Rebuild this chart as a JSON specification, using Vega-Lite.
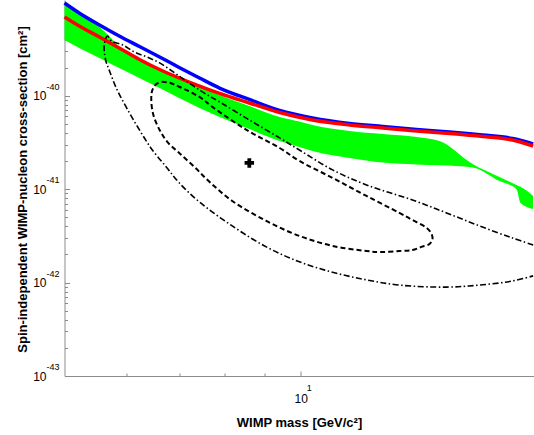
{
  "$schema": "https://vega.github.io/schema/vega-lite/v6.json",
  "width": 469,
  "height": 376,
  "autosize": "none",
  "padding": {"left": 64.5, "top": 0, "right": 0.5, "bottom": 59},
  "config": {
    "view": {"stroke": null},
    "axis": {"grid": false, "domainColor": "#8c8c8c", "tickColor": "#8c8c8c", "labelColor": "#000000", "titleColor": "#000000", "labelFont": "Liberation Sans", "titleFont": "Liberation Sans"}
  },
  "resolve": {"axis": {"x": "independent", "y": "independent"}},
  "datasets": {
    "green": [
      {"m": 5.0, "lo": 3.96e-40, "hi": 9.61e-40},
      {"m": 5.22, "lo": 3.25e-40, "hi": 7.51e-40},
      {"m": 5.54, "lo": 2.54e-40, "hi": 5.45e-40},
      {"m": 5.70, "lo": 2.25e-40, "hi": 4.37e-40},
      {"m": 5.87, "lo": 1.98e-40, "hi": 3.33e-40},
      {"m": 6.05, "lo": 1.75e-40, "hi": 2.87e-40},
      {"m": 6.32, "lo": 1.46e-40, "hi": 2.30e-40},
      {"m": 6.61, "lo": 1.21e-40, "hi": 1.94e-40},
      {"m": 7.00, "lo": 9.47e-41, "hi": 1.55e-40},
      {"m": 7.43, "lo": 7.40e-41, "hi": 1.26e-40},
      {"m": 7.88, "lo": 5.93e-41, "hi": 1.02e-40},
      {"m": 8.60, "lo": 4.41e-41, "hi": 7.78e-41},
      {"m": 9.40, "lo": 3.28e-41, "hi": 5.93e-41},
      {"m": 9.96, "lo": 2.83e-41, "hi": 5.3e-41},
      {"m": 10.35, "lo": 2.56e-41, "hi": 4.87e-41},
      {"m": 11.54, "lo": 2.16e-41, "hi": 4.20e-41},
      {"m": 12.72, "lo": 1.93e-41, "hi": 3.90e-41},
      {"m": 14.05, "lo": 1.84e-41, "hi": 3.62e-41},
      {"m": 15.03, "lo": 1.80e-41, "hi": 3.28e-41},
      {"m": 16.56, "lo": 1.71e-41, "hi": 1.86e-41},
      {"m": 17.92, "lo": 1.22e-41, "hi": 1.35e-41},
      {"m": 18.84, "lo": 1.00e-41, "hi": 1.11e-41},
      {"m": 19.06, "lo": 7.11e-42, "hi": 1.06e-41},
      {"m": 19.78, "lo": 6.14e-42, "hi": 8.46e-42}
    ],
    "blue": [
      {"m": 5.0, "s": 9.85e-40}, {"m": 5.22, "s": 7.70e-40}, {"m": 5.54, "s": 5.73e-40},
      {"m": 5.87, "s": 4.37e-40}, {"m": 6.23, "s": 3.37e-40}, {"m": 6.61, "s": 2.60e-40},
      {"m": 7.00, "s": 2.01e-40}, {"m": 7.43, "s": 1.55e-40}, {"m": 7.88, "s": 1.21e-40},
      {"m": 8.60, "s": 9.13e-41}, {"m": 9.40, "s": 6.96e-41}, {"m": 10.35, "s": 5.78e-41},
      {"m": 11.54, "s": 5.05e-41}, {"m": 12.72, "s": 4.69e-41}, {"m": 14.05, "s": 4.36e-41},
      {"m": 15.48, "s": 4.10e-41}, {"m": 17.05, "s": 3.80e-41}, {"m": 18.62, "s": 3.49e-41},
      {"m": 19.78, "s": 3.05e-41}
    ],
    "red": [
      {"m": 5.0, "s": 6.98e-40}, {"m": 5.22, "s": 5.59e-40}, {"m": 5.54, "s": 4.26e-40},
      {"m": 5.87, "s": 3.25e-40}, {"m": 6.23, "s": 2.45e-40}, {"m": 6.61, "s": 1.91e-40},
      {"m": 7.00, "s": 1.55e-40}, {"m": 7.43, "s": 1.27e-40}, {"m": 7.88, "s": 1.06e-40},
      {"m": 8.60, "s": 8.37e-41}, {"m": 9.40, "s": 6.62e-41}, {"m": 10.35, "s": 5.51e-41},
      {"m": 11.54, "s": 4.87e-41}, {"m": 12.72, "s": 4.52e-41}, {"m": 14.05, "s": 4.20e-41},
      {"m": 15.48, "s": 3.95e-41}, {"m": 17.05, "s": 3.67e-41}, {"m": 18.62, "s": 3.36e-41},
      {"m": 19.78, "s": 2.90e-41}
    ],
    "dashdot": [
      {"i": 0, "m": 19.78, "s": 2.53e-42}, {"i": 1, "m": 18.62, "s": 3.00e-42}, {"i": 2, "m": 16.90, "s": 4.04e-42},
      {"i": 3, "m": 15.34, "s": 5.57e-42}, {"i": 4, "m": 13.88, "s": 7.66e-42}, {"i": 5, "m": 12.13, "s": 1.11e-41},
      {"i": 6, "m": 10.98, "s": 1.61e-41}, {"i": 7, "m": 9.96, "s": 2.63e-41}, {"i": 8, "m": 9.40, "s": 3.54e-41},
      {"i": 9, "m": 8.60, "s": 5.51e-41}, {"i": 10, "m": 7.88, "s": 8.59e-41}, {"i": 11, "m": 7.43, "s": 1.15e-40},
      {"i": 12, "m": 6.94, "s": 1.71e-40}, {"i": 13, "m": 6.61, "s": 2.25e-40}, {"i": 14, "m": 6.36, "s": 2.61e-40},
      {"i": 15, "m": 6.14, "s": 2.94e-40}, {"i": 16, "m": 5.93, "s": 3.50e-40}, {"i": 17, "m": 5.74, "s": 3.85e-40},
      {"i": 18, "m": 5.67, "s": 4.37e-40}, {"i": 19, "m": 5.62, "s": 3.59e-40}, {"i": 20, "m": 5.62, "s": 2.94e-40},
      {"i": 21, "m": 5.65, "s": 2.30e-40}, {"i": 22, "m": 5.70, "s": 1.89e-40}, {"i": 23, "m": 5.82, "s": 1.21e-40},
      {"i": 24, "m": 6.00, "s": 7.41e-41}, {"i": 25, "m": 6.23, "s": 4.31e-41}, {"i": 26, "m": 6.47, "s": 2.63e-41},
      {"i": 27, "m": 6.74, "s": 1.73e-41}, {"i": 28, "m": 7.00, "s": 1.17e-41}, {"i": 29, "m": 7.43, "s": 7.29e-42},
      {"i": 30, "m": 8.18, "s": 4.04e-42}, {"i": 31, "m": 9.04, "s": 2.41e-42}, {"i": 32, "m": 9.96, "s": 1.67e-42},
      {"i": 33, "m": 10.98, "s": 1.29e-42}, {"i": 34, "m": 12.13, "s": 1.07e-42}, {"i": 35, "m": 13.36, "s": 9.4e-43},
      {"i": 36, "m": 15.34, "s": 8.95e-43}, {"i": 37, "m": 16.90, "s": 9.4e-43}, {"i": 38, "m": 18.62, "s": 1.04e-42},
      {"i": 39, "m": 19.78, "s": 1.18e-42}
    ],
    "dashed": [
      {"i": 0, "m": 6.65, "s": 1.41e-40}, {"i": 1, "m": 6.80, "s": 1.38e-40}, {"i": 2, "m": 7.00, "s": 1.25e-40},
      {"i": 3, "m": 7.43, "s": 9.71e-41}, {"i": 4, "m": 7.72, "s": 7.58e-41}, {"i": 5, "m": 8.53, "s": 4.31e-41},
      {"i": 6, "m": 9.40, "s": 2.76e-41}, {"i": 7, "m": 9.96, "s": 2.01e-41}, {"i": 8, "m": 10.98, "s": 1.32e-41},
      {"i": 9, "m": 12.13, "s": 8.46e-42}, {"i": 10, "m": 13.36, "s": 5.57e-42}, {"i": 11, "m": 13.88, "s": 4.68e-42},
      {"i": 12, "m": 14.47, "s": 3.85e-42}, {"i": 13, "m": 14.68, "s": 3.32e-42}, {"i": 14, "m": 14.72, "s": 2.93e-42},
      {"i": 15, "m": 14.59, "s": 2.59e-42}, {"i": 16, "m": 14.25, "s": 2.41e-42}, {"i": 17, "m": 13.88, "s": 2.23e-42},
      {"i": 18, "m": 13.36, "s": 2.18e-42}, {"i": 19, "m": 12.60, "s": 2.12e-42}, {"i": 20, "m": 12.13, "s": 2.18e-42},
      {"i": 21, "m": 10.98, "s": 2.47e-42}, {"i": 22, "m": 9.96, "s": 3.16e-42}, {"i": 23, "m": 9.04, "s": 4.57e-42},
      {"i": 24, "m": 8.18, "s": 7.47e-42}, {"i": 25, "m": 7.65, "s": 1.20e-41}, {"i": 26, "m": 7.32, "s": 1.73e-41},
      {"i": 27, "m": 7.00, "s": 2.44e-41}, {"i": 28, "m": 6.76, "s": 3.21e-41}, {"i": 29, "m": 6.61, "s": 4.31e-41},
      {"i": 30, "m": 6.49, "s": 6.22e-41}, {"i": 31, "m": 6.45, "s": 9.02e-41}, {"i": 32, "m": 6.47, "s": 1.15e-40},
      {"i": 33, "m": 6.55, "s": 1.34e-40}, {"i": 34, "m": 6.65, "s": 1.41e-40}
    ],
    "best": [{"m": 8.60, "s": 1.91e-41}],
    "yexp": [{"s": 1e-43, "t": "-43"}, {"s": 1e-42, "t": "-42"}, {"s": 1e-41, "t": "-41"}, {"s": 1e-40, "t": "-40"}],
    "xexp": [{"m": 10, "t": "1"}]
  },
  "layer": [
    {
      "data": {"name": "green"},
      "mark": {"type": "area", "color": "#00ff00", "opacity": 1, "interpolate": "monotone"},
      "encoding": {
        "x": {"field": "m", "type": "quantitative",
          "scale": {"type": "log", "domain": [5, 19.8], "nice": false},
          "axis": {"orient": "bottom", "values": [10], "labelExpr": "'10'", "tickSize": -5, "labelPadding": 22.5, "labelFontSize": 12, "title": "WIMP mass [GeV/c²]", "titleFontSize": 13, "titleFontWeight": "bold", "titleY": 40}},
        "y": {"field": "lo", "type": "quantitative",
          "scale": {"type": "log", "domain": [1e-43, 1.06e-39], "nice": false},
          "axis": {"orient": "left", "values": [1e-43, 1e-42, 1e-41, 1e-40], "labelExpr": "'10'", "tickSize": -5, "labelPadding": 23.5, "labelFontSize": 12, "title": "Spin-independent WIMP-nucleon cross-section [cm²]", "titleFontSize": 13, "titleFontWeight": "bold", "titleX": -35, "titleY": 189}},
        "y2": {"field": "hi"}
      }
    },
    {
      "data": {"name": "blue"},
      "mark": {"type": "line", "color": "#0000ff", "strokeWidth": 3.5, "interpolate": "monotone"},
      "encoding": {
        "x": {"field": "m", "type": "quantitative",
          "axis": {"orient": "bottom", "values": [6, 7, 8, 9], "labels": false, "domain": false, "tickSize": -3, "title": null}},
        "y": {"field": "s", "type": "quantitative",
          "axis": {"orient": "left", "values": [2e-43, 3e-43, 4e-43, 5e-43, 6e-43, 7e-43, 8e-43, 9e-43, 2e-42, 3e-42, 4e-42, 5e-42, 6e-42, 7e-42, 8e-42, 9e-42, 2e-41, 3e-41, 4e-41, 5e-41, 6e-41, 7e-41, 8e-41, 9e-41, 2e-40, 3e-40, 4e-40, 5e-40, 6e-40, 7e-40, 8e-40, 9e-40], "labels": false, "domain": false, "tickSize": -3, "title": null}}
      }
    },
    {
      "data": {"name": "red"},
      "mark": {"type": "line", "color": "#ff0000", "strokeWidth": 3.5, "interpolate": "monotone"},
      "encoding": {
        "x": {"field": "m", "type": "quantitative", "axis": null},
        "y": {"field": "s", "type": "quantitative", "axis": null}
      }
    },
    {
      "data": {"name": "dashdot"},
      "mark": {"type": "line", "color": "#000000", "strokeWidth": 1.6, "strokeDash": [6, 2.5, 1.5, 2.5], "interpolate": "catmull-rom"},
      "encoding": {
        "x": {"field": "m", "type": "quantitative", "axis": null},
        "y": {"field": "s", "type": "quantitative", "axis": null},
        "order": {"field": "i", "type": "quantitative"}
      }
    },
    {
      "data": {"name": "dashed"},
      "mark": {"type": "line", "color": "#000000", "strokeWidth": 2, "strokeDash": [5, 3], "interpolate": "catmull-rom"},
      "encoding": {
        "x": {"field": "m", "type": "quantitative", "axis": null},
        "y": {"field": "s", "type": "quantitative", "axis": null},
        "order": {"field": "i", "type": "quantitative"}
      }
    },
    {
      "data": {"name": "best"},
      "mark": {"type": "point", "shape": "cross", "filled": true, "color": "#000000", "size": 90, "opacity": 1},
      "encoding": {
        "x": {"field": "m", "type": "quantitative", "axis": null},
        "y": {"field": "s", "type": "quantitative", "axis": null}
      }
    },
    {
      "data": {"name": "yexp"},
      "mark": {"type": "text", "font": "Liberation Sans", "fontSize": 9, "align": "center", "baseline": "middle", "dx": -11.5, "dy": -9, "color": "#000000"},
      "encoding": {
        "x": {"datum": 5, "axis": null},
        "y": {"field": "s", "type": "quantitative", "axis": null},
        "text": {"field": "t"}
      }
    },
    {
      "data": {"name": "xexp"},
      "mark": {"type": "text", "font": "Liberation Sans", "fontSize": 9, "align": "center", "baseline": "middle", "dx": 8.5, "dy": 12, "color": "#000000"},
      "encoding": {
        "x": {"field": "m", "type": "quantitative", "axis": null},
        "y": {"datum": 1e-43, "axis": null},
        "text": {"field": "t"}
      }
    }
  ]
}
